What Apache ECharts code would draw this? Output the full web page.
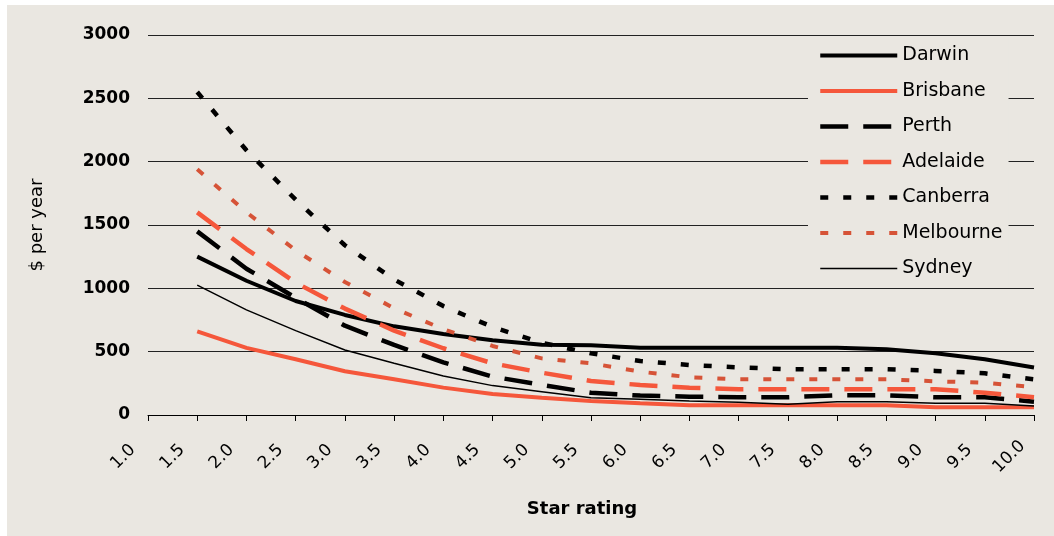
<!DOCTYPE html>
<html>
<head>
<meta charset="utf-8">
<script src="https://cdn.jsdelivr.net/npm/echarts@6/dist/echarts.min.js"></script>
<style>
  html, body { margin: 0; padding: 0; background: #ffffff; width: 1054px; height: 536px; overflow: hidden; }
  #c { position: absolute; left: 7px; top: 5px; width: 1047px; height: 531px; }
</style>
</head>
<body>
<div id="c"></div>
<script>
const starRatings = ['1.0','1.5','2.0','2.5','3.0','3.5','4.0','4.5','5.0','5.5','6.0','6.5','7.0','7.5','8.0','8.5','9.0','9.5','10.0'];
const yTicks = [0, 500, 1000, 1500, 2000, 2500, 3000];

const darwin    = [null,1250,1060,900,790,700,640,590,555,550,530,530,530,530,530,520,487,440,375];
const brisbane  = [null,660,530,440,345,282,216,166,137,110,92,77,77,77,77,77,61,61,61];
const perth     = [null,1450,1155,925,705,553,416,303,237,176,153,145,140,140,156,156,140,140,105];
const adelaide  = [null,1600,1310,1045,840,666,527,408,334,268,237,215,203,203,203,203,203,176,140];
const canberra  = [null,2550,2090,1700,1340,1070,860,695,570,487,426,395,376,361,361,361,348,329,282];
const melbourne = [null,1940,1600,1300,1050,843,677,545,447,408,342,298,282,282,282,282,266,255,219];
const sydney    = [null,1025,830,666,513,408,308,232,184,137,124,110,100,84,105,105,92,92,71];

const FONT = 'DejaVu Sans';
const RED = '#F5573B';
const RED2 = '#D65337';

const seriesDefs = [
  { name: 'Darwin',    data: darwin,    color: '#000000', width: 4,   type: 'solid' },
  { name: 'Brisbane',  data: brisbane,  color: RED,       width: 4,   type: 'solid' },
  { name: 'Perth',     data: perth,     color: '#000000', width: 4.5, type: [28, 15] },
  { name: 'Adelaide',  data: adelaide,  color: RED,       width: 4.5, type: [28, 15] },
  { name: 'Canberra',  data: canberra,  color: '#000000', width: 4.5, type: [8, 15] },
  { name: 'Melbourne', data: melbourne, color: RED2,      width: 4,   type: [8, 15] },
  { name: 'Sydney',    data: sydney,    color: '#000000', width: 1.5, type: 'solid' }
];

const chart = echarts.init(document.getElementById('c'), null, { renderer: 'canvas' });
chart.setOption({
  backgroundColor: '#EAE7E1',
  animation: false,
  grid: { left: 141, right: 20, top: 30, bottom: 121, containLabel: false },
  legend: {
    orient: 'vertical',
    left: 801,
    top: 33,
    padding: [8, 6, 10, 10],
    backgroundColor: '#EAE7E1',
    itemWidth: 77,
    itemHeight: 19,
    itemGap: 16.5,
    itemStyle: { opacity: 0 },
    textStyle: { fontFamily: FONT, fontSize: 19, color: '#000', lineHeight: 19 },
    data: seriesDefs.map(s => ({ name: s.name, lineStyle: { width: s.width }, itemStyle: { opacity: 0 } })),
    selectedMode: false
  },
  xAxis: {
    type: 'category',
    data: starRatings,
    boundaryGap: false,
    name: 'Star rating',
    nameLocation: 'middle',
    nameGap: 85,
    nameTextStyle: { fontFamily: FONT, fontSize: 18, fontWeight: 'bold', color: '#000', padding: [0, 18, 0, 0] },
    axisLine: { show: true, lineStyle: { color: '#000', width: 1 } },
    axisTick: { show: true, alignWithLabel: true, interval: 0, length: 6, lineStyle: { color: '#000' } },
    axisLabel: {
      interval: 0, rotate: 45, margin: 17,
      align: 'center', verticalAlign: 'middle',
      padding: [0, 70, 0, 0],
      fontFamily: FONT, fontSize: 17, color: '#000'
    },
    splitLine: { show: false }
  },
  yAxis: {
    type: 'value',
    min: yTicks[0],
    max: yTicks[yTicks.length - 1],
    interval: 500,
    name: '$ per year',
    nameLocation: 'middle',
    nameGap: 102,
    nameTextStyle: { fontFamily: FONT, fontSize: 18, color: '#000' },
    axisLine: { show: false },
    axisTick: { show: false },
    axisLabel: { margin: 18, fontFamily: FONT, fontSize: 17, fontWeight: 'bold', color: '#000', formatter: v => String(v) },
    splitLine: { show: true, lineStyle: { color: '#222', width: 1 } }
  },
  series: seriesDefs.map(s => ({
    name: s.name,
    type: 'line',
    data: s.data,
    symbol: 'none',
    showSymbol: false,
    smooth: false,
    connectNulls: false,
    color: s.color,
    lineStyle: { color: s.color, width: s.width, type: s.type, cap: 'butt' },
    emphasis: { disabled: true }
  }))
});
</script>
</body>
</html>
